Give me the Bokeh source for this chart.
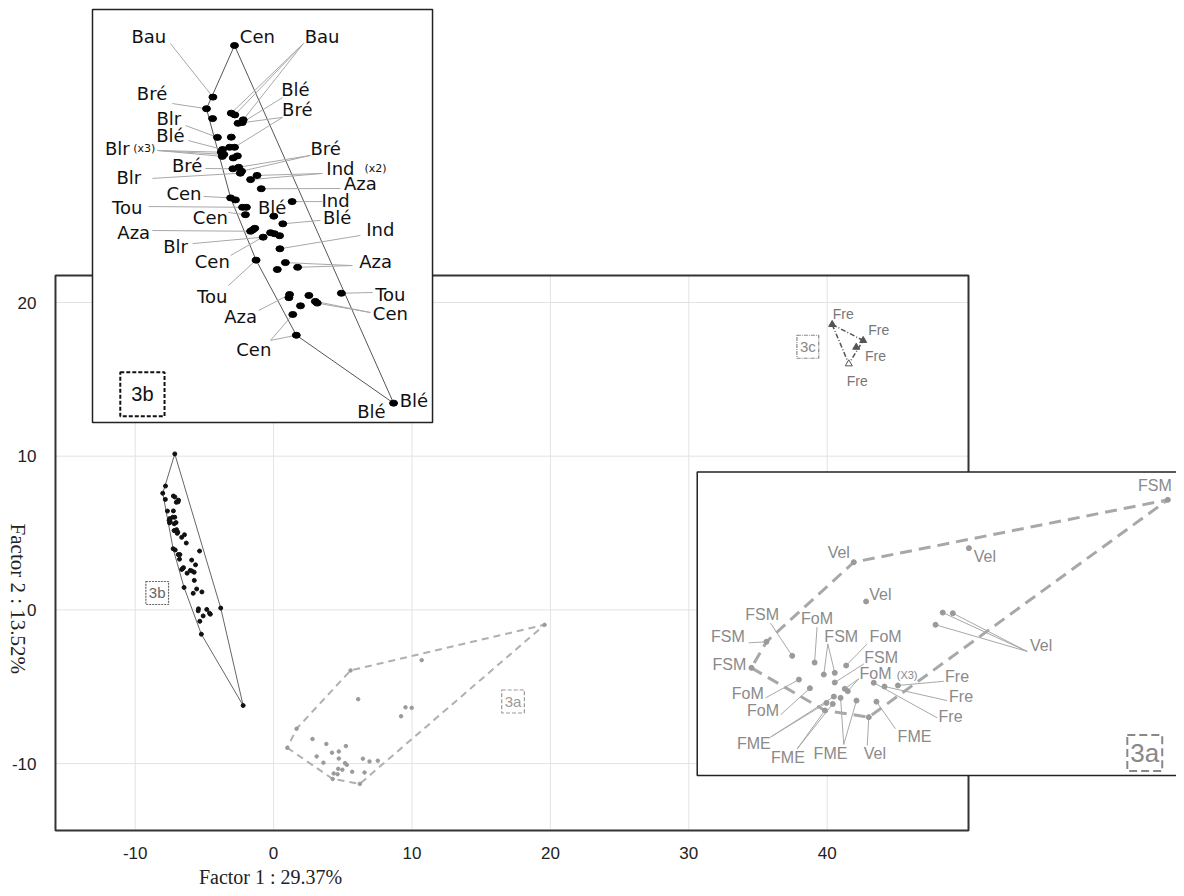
import math
from bokeh.plotting import figure
from bokeh.models import Range1d, LinearAxis, FixedTicker, Label
from bokeh.core.properties import value
from bokeh.embed import file_html
from bokeh.resources import INLINE

# ---------------- DATA ----------------
x_ticks = [-10, 0, 10, 20, 30, 40]
y_ticks = [-10, 0, 10, 20]
x_lim = (-15.76, 50.21)
y_lim = (-14.35, 21.76)
x_title = "Factor 1 : 29.37%"
y_title = "Factor 2 : 13.52%"

# group 3b (black)
b3_x = [-7.14, -7.81, -8.01, -7.82, -7.24, -7.13, -6.87, -6.90, -7.03, -7.67,
        -7.24, -7.51, -7.55, -7.47, -7.52, -7.29, -7.14, -7.05, -7.18, -7.19,
        -7.01, -6.96, -6.92, -6.64, -6.44, -6.31, -7.26, -7.11, -6.89, -6.77,
        -5.35, -6.80, -5.92, -5.64, -6.57, -6.51, -6.64, -6.25, -6.02, -5.90,
        -5.74, -5.73, -6.47, -5.56, -5.81, -5.18, -5.43, -5.45, -4.83, -4.63,
        -4.57, -5.09, -5.33, -5.22, -3.82, -2.20]
b3_y = [10.15, 8.06, 7.59, 7.19, 7.41, 7.34, 7.14, 7.03, 7.00, 6.43,
        6.44, 5.94, 5.83, 5.74, 5.66, 6.03, 6.03, 5.68, 5.60, 5.16,
        5.22, 4.98, 5.06, 4.72, 4.89, 4.35, 3.98, 3.90, 3.60, 3.60,
        3.83, 3.30, 3.24, 2.93, 2.69, 2.75, 2.63, 2.39, 2.57, 2.53,
        2.45, 1.92, 1.46, 1.36, 1.08, 1.17, 0.07, -0.06, 0.03, -0.21,
        -0.28, -0.39, -0.74, -1.58, 0.12, -6.22]
b3_ble_inset_y = -4.33   # the "Blé" extreme as drawn inside inset 3b

b3_lab_text = ["Bau", "Cen", "Bau", "Bré", "Blé", "Bré", "Blr", "Blé", "Blr", "Bré",
               "Bré", "Ind", "Blr", "Aza", "Cen", "Ind", "Tou", "Blé", "Cen", "Blé",
               "Aza", "Ind", "Blr", "Cen", "Aza", "Tou", "Tou", "Aza", "Cen", "Cen",
               "Blé", "Blé"]
b3_lab_x = [-9.80, -6.43, -4.42, -9.70, -5.25, -5.19, -9.18, -9.13, -10.78, -4.31,
            -8.61, -3.85, -10.42, -3.23, -8.71, -4.00, -10.47, -5.97, -7.89, -3.95,
            -10.27, -2.61, -8.97, -7.83, -2.76, -7.83, -2.30, -6.95, -2.30, -6.54,
            -2.89, -1.57]
b3_lab_y = [10.51, 10.51, 10.51, 8.22, 8.36, 7.55, 7.21, 6.51, 5.97, 5.97,
            5.29, 5.16, 4.82, 4.57, 4.15, 3.87, 3.60, 3.60, 3.20, 3.20,
            2.57, 2.69, 2.01, 1.42, 1.42, -0.01, 0.06, -0.81, -0.69, -2.17,
            -4.66, -4.22]
b3_small_text = ["(x3)", "(x2)"]
b3_small_x = [-9.94, -2.76]
b3_small_y = [5.97, 5.16]
b3_lead_x0 = [-9.13, -5.00, -5.00, -5.00, -9.07, -5.65, -5.65, -5.65, -8.66, -8.57,
              -9.53, -9.53, -9.53, -4.78, -4.78, -8.04, -4.41, -4.41, -9.69, -3.85,
              -8.10, -4.41, -9.81, -7.33, -4.47, -9.69, -3.23, -8.44, -7.26, -3.48,
              -3.48, -7.33, -2.85, -6.39, -2.92, -2.92, -6.02, -6.02]
b3_lead_y0 = [10.23, 10.23, 10.23, 10.23, 7.80, 8.04, 7.24, 7.24, 6.91, 6.30,
              5.90, 5.90, 5.90, 5.70, 5.70, 5.17, 4.97, 4.97, 4.77, 4.36,
              4.04, 3.83, 3.63, 3.39, 3.07, 2.66, 2.46, 2.13, 1.65, 1.24,
              1.24, 0.43, 0.15, -0.58, -0.66, -0.66, -1.79, -1.79]
b3_lead_to = [1, 4, 5, 6, 2, 7, 8, 16, 9, 11,
              12, 13, 14, 20, 22, 19, 23, 24, 21, 25,
              26, 30, 28, 31, 33, 36, 41, 37, 38, 45,
              43, 42, 54, 46, 49, 50, 53, 52]

# group 3a (grey)
a3_x = [19.58, 5.56, 10.70, 6.11, 9.53, 9.98, 9.21, 1.66, 0.99, 2.81,
        3.81, 4.22, 4.71, 5.22, 4.71, 3.11, 3.60, 5.16, 5.29, 6.45,
        6.93, 7.53, 4.67, 4.97, 4.34, 4.62, 4.27, 5.68, 6.23, 6.57]
a3_y = [-0.97, -3.94, -3.27, -5.81, -6.34, -6.37, -6.92, -7.73, -8.97, -8.40,
        -8.72, -9.29, -9.21, -8.86, -9.67, -9.53, -9.94, -9.97, -10.08, -9.68,
        -9.86, -9.81, -10.34, -10.40, -10.64, -10.69, -11.00, -10.53, -11.32, -10.58]
a3_lab_text = ["FSM", "Vel", "Vel", "Vel", "Vel", "FSM", "FSM", "FSM", "FoM", "FSM",
               "FoM", "FSM", "FoM", "FoM", "FoM", "Fre", "Fre", "Fre", "FME", "FME",
               "FME", "Vel", "FME"]
a3_lab_x = [19.00, 4.89, 11.41, 6.75, 13.92, 1.47, -0.06, 0.01, 3.92, 5.00,
            6.98, 6.78, 6.53, 0.83, 1.51, 10.17, 10.35, 9.88, 1.10, 2.62,
            4.52, 6.50, 8.27]
a3_lab_y = [-0.29, -3.46, -3.67, -5.49, -7.91, -6.45, -7.46, -8.81, -6.64, -7.46,
            -7.46, -8.46, -9.22, -10.18, -11.00, -9.37, -10.32, -11.27, -12.59, -13.26,
            -13.03, -13.03, -12.22]
a3_small_text = ["(X3)"]
a3_small_x = [7.94]
a3_small_y = [-9.30]
a3_lead_x0 = [13.30, 13.30, 13.30, 1.84, 0.87, 3.92, 4.40, 4.40, 6.16, 6.01,
              5.78, 5.78, 1.62, 2.29, 9.58, 9.73, 9.28, 1.84, 1.84, 3.03,
              3.03, 5.11, 5.11, 6.16, 7.42]
a3_lead_y0 = [-8.19, -8.19, -8.19, -6.84, -7.78, -7.03, -7.83, -7.83, -7.83, -8.78,
              -9.49, -9.49, -10.40, -11.21, -9.61, -10.53, -11.35, -12.27, -12.27, -12.83,
              -12.83, -12.62, -12.62, -12.67, -11.87]
a3_lead_to = [4, 5, 6, 9, 7, 10, 11, 12, 13, 14,
              17, 18, 15, 16, 21, 20, 19, 22, 24, 25,
              26, 23, 27, 28, 29]

# group 3c
c3_x = [40.36, 42.60, 42.10, 41.56]
c3_y = [18.57, 17.53, 17.09, 16.01]
c3_lab_text = ["Fre", "Fre", "Fre", "Fre"]
c3_lab_x = [41.16, 43.73, 43.49, 42.17]
c3_lab_y = [19.26, 18.22, 16.49, 14.88]

# ---------------- HELPERS ----------------
def hull_idx(xs, ys):
    pts = sorted(range(len(xs)), key=lambda i: (xs[i], ys[i]))
    def cross(o, a, b):
        return (xs[a] - xs[o]) * (ys[b] - ys[o]) - (ys[a] - ys[o]) * (xs[b] - xs[o])
    lower, upper = [], []
    for i in pts:
        while len(lower) >= 2 and cross(lower[-2], lower[-1], i) <= 0:
            lower.pop()
        lower.append(i)
    for i in reversed(pts):
        while len(upper) >= 2 and cross(upper[-2], upper[-1], i) <= 0:
            upper.pop()
        upper.append(i)
    h = lower[:-1] + upper[:-1]
    return h + [h[0]]

W, H, PAGE = 1176, 888, 0

def xr(px0, v0, ppu):
    return Range1d(v0 + (PAGE - px0) / ppu, v0 + (PAGE + W - px0) / ppu)

def yr(py0, v0, ppu):
    return Range1d(v0 - (PAGE + H - py0) / ppu, v0 - (PAGE - py0) / ppu)

p = figure(width=W, height=H,
           x_range=xr(273.1, 0.0, 13.84), y_range=yr(609.4, 0.0, 15.37),
           x_axis_type=None, y_axis_type=None,
           toolbar_location=None, output_backend="svg",
           min_border=0, min_border_left=0, min_border_right=0,
           min_border_top=0, min_border_bottom=0,
           outline_line_color=None, background_fill_color="white",
           border_fill_color="white")
p.extra_x_ranges = {"b3": xr(234.0, -7.14, 32.2), "a3": xr(853.3, 5.56, 22.4)}
p.extra_y_ranges = {"b3": yr(45.0, 10.15, 24.7), "a3": yr(561.7, -3.94, 21.0)}

TICK_FONT = "Liberation Sans"

def overrides(ticks):
    d = {}
    for t in ticks:
        d[t] = str(t)
        d[str(t)] = str(t)
    return d

xa = LinearAxis(fixed_location=y_lim[0], bounds=x_lim,
                ticker=FixedTicker(ticks=x_ticks),
                major_label_overrides=overrides(x_ticks),
                axis_line_color=None, major_tick_line_color=None,
                minor_tick_line_color=None, major_label_standoff=11,
                major_label_text_font=TICK_FONT, major_label_text_font_size="17px",
                major_label_text_color="#222222")
ya = LinearAxis(fixed_location=x_lim[0], bounds=y_lim,
                ticker=FixedTicker(ticks=y_ticks),
                major_label_overrides=overrides(y_ticks),
                axis_line_color=None, major_tick_line_color=None,
                minor_tick_line_color=None, major_label_standoff=13,
                major_label_text_font=TICK_FONT, major_label_text_font_size="17px",
                major_label_text_color="#222222")
p.add_layout(xa, "below")
p.add_layout(ya, "left")

# main grid
p.segment(x0=x_ticks, y0=[y_lim[0]] * len(x_ticks), x1=x_ticks, y1=[y_lim[1]] * len(x_ticks),
          line_color="#e3e3e3", line_width=1)
p.segment(x0=[x_lim[0]] * len(y_ticks), y0=y_ticks, x1=[x_lim[1]] * len(y_ticks), y1=y_ticks,
          line_color="#e3e3e3", line_width=1)
# main frame
p.quad(left=[x_lim[0]], right=[x_lim[1]], bottom=[y_lim[0]], top=[y_lim[1]],
       fill_color=None, line_color="#333333", line_width=2)

# ---- main: 3c
hc = hull_idx(c3_x, c3_y)
p.line([c3_x[i] for i in hc], [c3_y[i] for i in hc], line_color="#555555",
       line_width=1.5, line_dash="5 2 1 2")
p.scatter(c3_x, c3_y, marker="triangle", size=7, line_color="#555555",
          fill_color=["#555555", "#555555", "#555555", "white"])
p.text(c3_lab_x, c3_lab_y, text=c3_lab_text, text_font=value(TICK_FONT),
       text_font_size=value("14px"), text_color="#777777",
       text_align="center", text_baseline="middle")

# ---- main: 3a
ha = hull_idx(a3_x, a3_y)
p.line([a3_x[i] for i in ha], [a3_y[i] for i in ha], line_color="#b0b0b0",
       line_width=2, line_dash="7 5")
p.scatter(a3_x, a3_y, size=3.5, color="#9a9a9a")

# ---- main: 3b
hb = hull_idx(b3_x, b3_y)
p.line([b3_x[i] for i in hb], [b3_y[i] for i in hb], line_color="#666666", line_width=1)
p.scatter(b3_x, b3_y, size=4, color="#111111")

# axis titles
p.text([-0.22], [-17.35], text=[x_title], text_font=value("Liberation Serif"),
       text_font_size=value("20px"), text_color="#222222",
       text_align="center", text_baseline="middle")
p.text([-18.47], [0.72], text=[y_title], text_font=value("Liberation Serif"),
       text_font_size=value("21px"), text_color="#222222", angle=-math.pi / 2,
       text_align="center", text_baseline="middle")

# ---- inset 3b
bi_y = b3_y[:-1] + [b3_ble_inset_y]
kb = dict(x_range_name="b3", y_range_name="b3")
p.quad(left=[-11.55], right=[-0.99], bottom=[-5.11], top=[11.61],
       fill_color="white", line_color="#222222", line_width=1.5, **kb)
hbi = hull_idx(b3_x, bi_y)
p.line([b3_x[i] for i in hbi], [bi_y[i] for i in hbi], line_color="#555555",
       line_width=1, **kb)
p.segment(x0=b3_lead_x0, y0=b3_lead_y0,
          x1=[b3_x[i] for i in b3_lead_to], y1=[bi_y[i] for i in b3_lead_to],
          line_color="#a8a8a8", line_width=1, **kb)
p.ellipse(b3_x, bi_y, width=8, height=6, width_units="screen", height_units="screen",
          color="#000000", **kb)
p.text(b3_lab_x, b3_lab_y, text=b3_lab_text, text_font=value("DejaVu Sans"),
       text_font_size=value("18px"), text_color="#111111",
       text_align="center", text_baseline="middle", **kb)
p.text(b3_small_x, b3_small_y, text=b3_small_text, text_font=value("DejaVu Sans"),
       text_font_size=value("11px"), text_color="#111111",
       text_align="center", text_baseline="middle", **kb)

# ---- inset 3a
ka = dict(x_range_name="a3", y_range_name="a3")
p.quad(left=[-1.43], right=[21.5], bottom=[-14.10], top=[0.35],
       fill_color="white", line_color="#222222", line_width=1.5, **ka)
p.line([a3_x[i] for i in ha], [a3_y[i] for i in ha], line_color="#a8a8a8",
       line_width=3, line_dash="12 7", **ka)
p.segment(x0=a3_lead_x0, y0=a3_lead_y0,
          x1=[a3_x[i] for i in a3_lead_to], y1=[a3_y[i] for i in a3_lead_to],
          line_color="#a8a8a8", line_width=1, **ka)
p.scatter(a3_x, a3_y, size=5, color="#9a9a9a", **ka)
p.text(a3_lab_x, a3_lab_y, text=a3_lab_text, text_font=value(TICK_FONT),
       text_font_size=value("16px"), text_color="#8a8a8a",
       text_align="center", text_baseline="middle", **ka)
p.text(a3_small_x, a3_small_y, text=a3_small_text, text_font=value(TICK_FONT),
       text_font_size=value("11px"), text_color="#8a8a8a",
       text_align="center", text_baseline="middle", **ka)

# ---- group tags
def tag(x, y, txt, size, color, dash, width, pad, **kw):
    p.add_layout(Label(x=x, y=y, text=txt, text_font=TICK_FONT, text_font_size=size,
                       text_color=color, text_align="center", text_baseline="middle",
                       border_line_color=color, border_line_dash=dash,
                       border_line_width=width, background_fill_color="white",
                       padding=pad, **kw))

tag(-8.41, 1.10, "3b", "15px", "#666666", "2 1", 1.2, 3)
tag(17.30, -5.96, "3a", "15px", "#999999", "4 2", 1.2, 3)
tag(38.60, 17.12, "3c", "15px", "#888888", "4 1 1 1", 1.2, 3)
tag(-10.0, -3.97, "3b", "20px", "#111111", "4 2", 2, 11, **kb)
tag(18.55, -13.03, "3a", "26px", "#888888", "8 4", 2, 3, **ka)

open("out.html", "w").write(file_html(p, INLINE))
